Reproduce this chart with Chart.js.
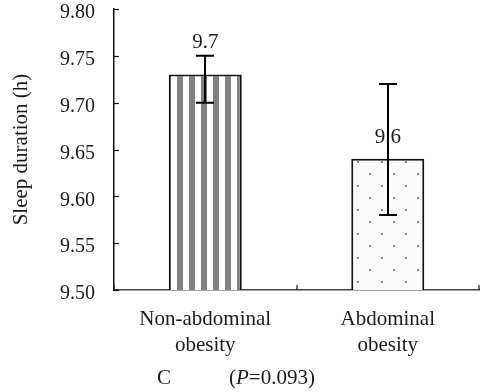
<!DOCTYPE html>
<html>
<head>
<meta charset="utf-8">
<script src="https://cdn.jsdelivr.net/npm/chart.js@4"></script>
<style>
  html, body { margin: 0; padding: 0; background: #fff; }
  #wrap { width: 489px; height: 392px; }
</style>
</head>
<body>
<div id="wrap"><canvas id="myChart" width="489" height="392"></canvas></div>
<script>
const categories = [["Non-abdominal", "obesity"], ["Abdominal", "obesity"]];
const sleepMean = [9.73, 9.64];
const errHigh = [9.75, 9.72];
const errLow = [9.70, 9.58];
const yTicks = [9.5, 9.55, 9.6, 9.65, 9.7, 9.75, 9.8];
const panelLabel = "C";
const pValue = "0.093";

const serif = "'Liberation Serif', 'Times New Roman', serif";
const ink = "#1a1a1a";

// vertical stripes for the first bar
function stripePattern() {
  const c = document.createElement("canvas");
  c.width = 12;
  c.height = 12;
  const g = c.getContext("2d");
  g.fillStyle = "#ffffff";
  g.fillRect(0, 0, 12, 12);
  g.fillStyle = "#808080";
  g.fillRect(0, 0, 3, 12);
  g.fillRect(9, 0, 3, 12);
  return g.createPattern(c, "repeat");
}

// staggered dots for the second bar
function dotPattern() {
  const c = document.createElement("canvas");
  c.width = 24;
  c.height = 24;
  const g = c.getContext("2d");
  g.fillStyle = "#fbfbfb";
  g.fillRect(0, 0, 24, 24);
  g.fillStyle = "#858585";
  g.fillRect(21, 17, 2, 2);
  g.fillRect(9, 5, 2, 2);
  return g.createPattern(c, "repeat");
}

const extras = {
  id: "extras",
  afterDatasetsDraw(chart) {
    const ctx = chart.ctx;
    const x = chart.scales.x;
    const y = chart.scales.y;
    const area = chart.chartArea;
    ctx.save();
    ctx.strokeStyle = "#111";
    ctx.lineWidth = 1.2;

    // inward ticks on the y axis
    y.ticks.forEach((t) => {
      const py = Math.round(y.getPixelForValue(t.value)) + 0.5;
      ctx.beginPath();
      ctx.moveTo(area.left, py);
      ctx.lineTo(area.left + 5, py);
      ctx.stroke();
    });

    // category boundary ticks on the x axis
    const half = (x.getPixelForValue(1) - x.getPixelForValue(0)) / 2;
    for (let i = 0; i <= categories.length; i++) {
      const px = Math.round(x.getPixelForValue(0) - half + i * half * 2);
      ctx.beginPath();
      ctx.moveTo(px, area.bottom);
      ctx.lineTo(px, area.bottom - 5);
      ctx.stroke();
    }

    // error bars
    ctx.lineWidth = 2;
    ctx.strokeStyle = "#000";
    sleepMean.forEach((v, i) => {
      const px = Math.round(x.getPixelForValue(i));
      const top = y.getPixelForValue(errHigh[i]);
      const bot = y.getPixelForValue(errLow[i]);
      ctx.beginPath();
      ctx.moveTo(px, top);
      ctx.lineTo(px, bot);
      ctx.moveTo(px - 9, top);
      ctx.lineTo(px + 9, top);
      ctx.moveTo(px - 9, bot);
      ctx.lineTo(px + 9, bot);
      ctx.stroke();
    });

    // value labels
    ctx.fillStyle = ink;
    ctx.font = "21px " + serif;
    ctx.textAlign = "center";
    ctx.textBaseline = "middle";
    sleepMean.forEach((v, i) => {
      const px = x.getPixelForValue(i);
      const cap = y.getPixelForValue(errHigh[i]);
      let py = y.getPixelForValue(v) - 21;
      if (Math.abs(py - cap) < 12) py = cap - 13;
      ctx.fillText(v.toFixed(1), px, py);
    });

    // panel caption under the axis
    ctx.textAlign = "left";
    ctx.fillText(panelLabel, 157, 378);
    let cx = 229;
    ctx.fillText("(", cx, 378);
    cx += ctx.measureText("(").width;
    ctx.font = "italic 21px " + serif;
    ctx.fillText("P", cx, 378);
    cx += ctx.measureText("P").width;
    ctx.font = "21px " + serif;
    ctx.fillText("=" + pValue + ")", cx, 378);
    ctx.restore();
  },
};

const ctx = document.getElementById("myChart").getContext("2d");
new Chart(ctx, {
  type: "bar",
  data: {
    labels: categories,
    datasets: [
      {
        data: sleepMean,
        backgroundColor: [stripePattern(), dotPattern()],
        borderColor: "#111",
        borderWidth: 2,
        borderSkipped: false,
        barPercentage: 0.4,
        categoryPercentage: 1,
      },
    ],
  },
  options: {
    responsive: false,
    animation: false,
    devicePixelRatio: 1,
    layout: { padding: { top: 9, right: 10, left: 0, bottom: 0 } },
    plugins: {
      legend: { display: false },
      tooltip: { enabled: false },
    },
    scales: {
      x: {
        grid: { display: false, drawTicks: false },
        border: { display: true, color: "#444", width: 1.5 },
        ticks: {
          color: ink,
          padding: 16,
          font: { family: serif, size: 21, lineHeight: 1.25 },
        },
        afterFit: (scale) => {
          scale.height = 102;
          scale.paddingLeft = 0;
          scale.paddingRight = 0;
        },
      },
      y: {
        min: 9.5,
        max: 9.8,
        afterBuildTicks: (scale) => {
          scale.ticks = yTicks.map((v) => ({ value: v }));
        },
        grid: { display: false, drawTicks: false },
        border: { display: true, color: "#111", width: 1.5 },
        ticks: {
          color: ink,
          padding: 19,
          labelOffset: 4,
          font: { family: serif, size: 20 },
          callback: (v) => Number(v).toFixed(2),
        },
        title: {
          display: true,
          text: "Sleep duration (h)",
          color: ink,
          padding: { top: 9, bottom: 0 },
          font: { family: serif, size: 21 },
        },
        afterFit: (scale) => {
          scale.width = 114;
          scale.paddingTop = 0;
          scale.paddingBottom = 0;
        },
      },
    },
  },
  plugins: [extras],
});
</script>
</body>
</html>
